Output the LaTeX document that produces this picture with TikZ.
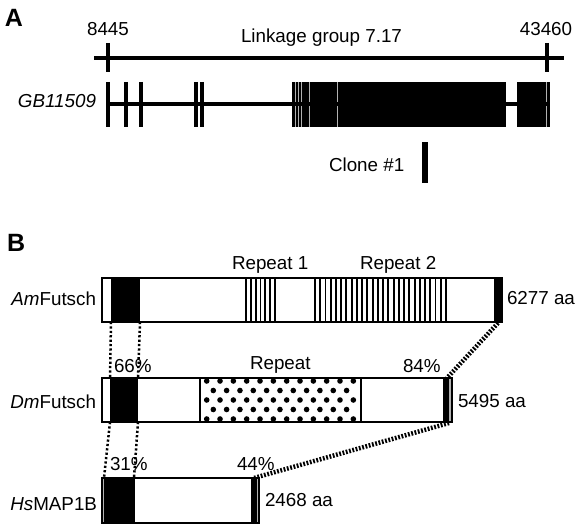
\documentclass[tikz,border=0pt]{standalone}
\usepackage{fontspec}
\setmainfont{Liberation Sans}
\begin{document}
\begin{tikzpicture}[x=1pt,y=-1pt,
  lbl/.style={inner sep=0pt, outer sep=0pt, font=\fontsize{18.8}{20}\selectfont},
  hdr/.style={inner sep=0pt, outer sep=0pt, font=\fontsize{25}{27}\selectfont\bfseries},
  axis/.style={line width=3.4pt},
  exon/.style={line width=3.2pt},
  sep/.style={gray!60, line width=0.9pt},
  stripe/.style={line width=1.9pt},
  box/.style={draw, line width=2pt, inner sep=0pt, outer sep=0pt, anchor=north west},
  conn/.style={line width=2.5pt, dash pattern=on 2.2pt off 2.2pt},
  wideconn/.style={line width=4.5pt, dash pattern=on 1.8pt off 1.6pt}]
\useasboundingbox (0,0) rectangle (581,529);

% ---------------- Panel A ----------------
\node[hdr, anchor=base west] (labA) at (5,26.7) {A};
\node[lbl, anchor=base] (l8445) at (108,36) {8445};
\node[lbl, anchor=base] (l43460) at (546,36) {43460};
\node[lbl, anchor=base west] (lgroup) at (241,43) {Linkage group 7.17};

\coordinate (lkL) at (94,58);
\coordinate (lkR) at (564,58);
\draw[axis] (lkL) -- (lkR);
\coordinate (t1a) at (108,43); \coordinate (t1b) at (108,72);
\coordinate (t2a) at (547,43); \coordinate (t2b) at (547,72);
\draw[axis] (t1a) -- (t1b);
\draw[axis] (t2a) -- (t2b);

\node[lbl, anchor=base east] (lgene) at (96,108) {\itshape GB11509};
\coordinate (gL) at (108,104);
\coordinate (gR) at (549,104);
\draw[axis] (gL) -- (gR);
\foreach \x in {108,126,141,196,202} \draw[exon] (\x,82) -- (\x,127);
\fill (292,82) rectangle (506,127);
\fill (517,82) rectangle (550,127);
\foreach \x in {295.3,298.7,301.9,309.5,337,546.2} {
  \draw[sep] (\x,82) -- (\x,102.2);
  \draw[sep] (\x,105.8) -- (\x,127);
}

\node[lbl, anchor=base west] (lclone) at (329,172) {Clone \#1};
\fill (422,142) rectangle (427.5,183);

% ---------------- Panel B ----------------
\node[hdr, anchor=base west] (labB) at (7,251.7) {B};

% AmFutsch
\fill (111,278) rectangle (140,322);
\foreach \i in {0,...,6} \draw[stripe] ({246+\i*4.83},278) -- ++(0,44);
\foreach \i in {0,...,25} \draw[stripe] ({315+\i*5.24},278) -- ++(0,44);
\fill (494,278) rectangle (502,322);
\node[box, minimum width=400pt, minimum height=44pt] (am) at (102,278) {};
\node[lbl, anchor=base east] (lam) at (96,306) {\textit{Am}Futsch};
\node[lbl, anchor=base west] (laa1) at (507,305) {6277 aa};
\node[lbl, anchor=base west] (lr1) at (232,270) {Repeat 1};
\node[lbl, anchor=base west] (lr2) at (360,270) {Repeat 2};

% DmFutsch
\fill (110,378) rectangle (138,422);
\begin{scope}
  \clip (200,378) rectangle (361,422);
  \foreach \r in {0,...,4} {
    \pgfmathsetmacro{\yy}{381+\r*9.5}
    \pgfmathtruncatemacro{\odd}{mod(\r,2)}
    \ifnum\odd=0
      \foreach \c in {0,...,11} \fill ({206.7+\c*13.33},\yy) circle (2.8pt);
    \else
      \foreach \c in {0,...,10} \fill ({213.3+\c*13.33},\yy) circle (2.8pt);
    \fi
  }
\end{scope}
\draw[line width=2pt] (200,378) -- (200,422);
\draw[line width=2pt] (361,378) -- (361,422);
\fill (443,378) rectangle (449,422);
\fill[gray!60] (449,378) rectangle (452,422);
\node[box, minimum width=350pt, minimum height=44pt] (dm) at (102,378) {};
\node[lbl, anchor=base east] (ldm) at (96,408) {\textit{Dm}Futsch};
\node[lbl, anchor=base west] (laa2) at (458,407) {5495 aa};
\node[lbl, anchor=base west] (lrep) at (250,370) {Repeat};
\node[lbl, anchor=base west] (p66) at (114,372.7) {66\%};
\node[lbl, anchor=base west] (p84) at (403,372.7) {84\%};

% HsMAP1B
\fill[gray!60] (102,478) rectangle (104,523);
\fill (104,478) rectangle (135,523);
\fill (251,478) rectangle (257,523);
\fill[gray!60] (257,478) rectangle (259,523);
\node[box, minimum width=157pt, minimum height=45pt] (hs) at (102,478) {};
\node[lbl, anchor=base east] (lhs) at (97,510) {\textit{Hs}MAP1B};
\node[lbl, anchor=base west] (laa3) at (265,506) {2468 aa};
\node[lbl, anchor=base west] (p31) at (110,470.7) {31\%};
\node[lbl, anchor=base west] (p44) at (237,470.7) {44\%};

% connectors
\coordinate (a1) at (111,322); \coordinate (d1) at (110,378);
\coordinate (a2) at (140,322); \coordinate (d2) at (138,378);
\coordinate (d3) at (110,422); \coordinate (h3) at (104,478);
\coordinate (d4) at (138,422); \coordinate (h4) at (134,478);
\draw[conn] (a1) -- (d1);
\draw[conn] (a2) -- (d2);
\draw[conn] (d3) -- (h3);
\draw[conn] (d4) -- (h4);
\coordinate (a5) at (498,323); \coordinate (d5) at (447,378);
\coordinate (d6) at (449,423); \coordinate (h6) at (254,478);
\draw[wideconn] (a5) -- (d5);
\draw[wideconn] (d6) -- (h6);
\end{tikzpicture}
\end{document}
